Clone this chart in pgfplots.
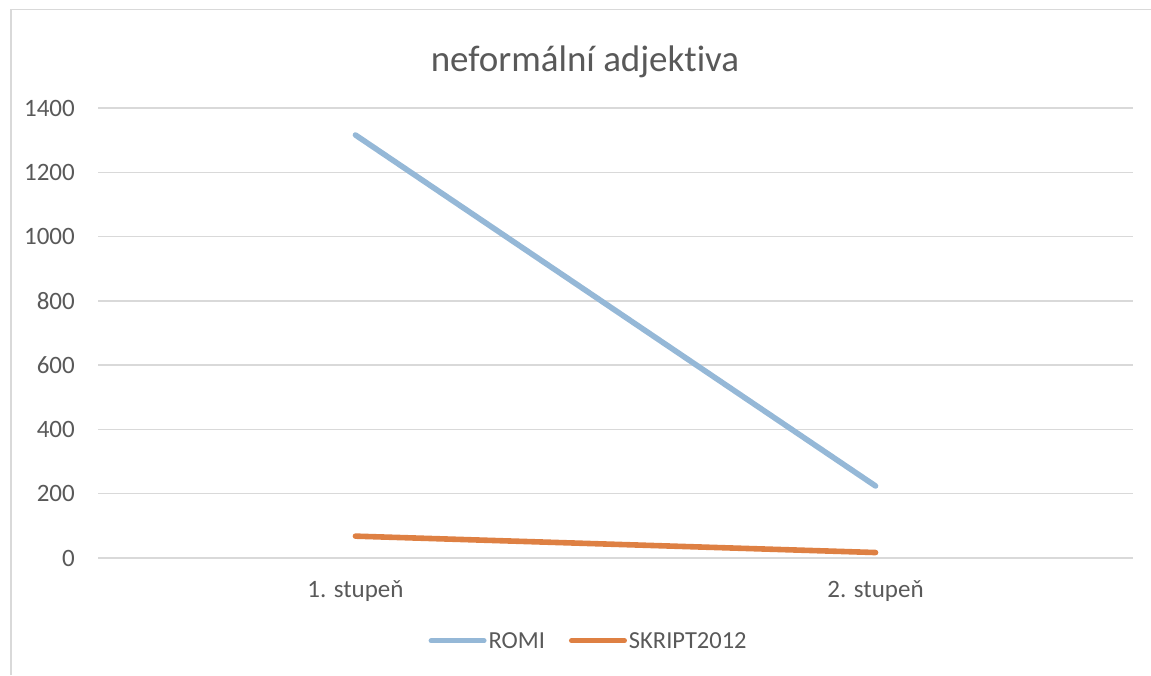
\documentclass[border=0pt]{standalone}
\usepackage{fontspec}
\setmainfont{Carlito}[Ligatures=CommonOff]
\usepackage{pgfplots}
\pgfplotsset{compat=1.18}
\definecolor{romi}{RGB}{149,184,215}
\definecolor{skript}{RGB}{222,128,67}
\definecolor{txt}{RGB}{89,89,89}
\definecolor{gridc}{RGB}{217,217,217}
\begin{document}
\begin{tikzpicture}[x=1pt,y=1pt]
\path[use as bounding box] (0,0) rectangle (1151,675);
\draw[gridc, line width=1.5pt] (11,0) -- (11,665.5) -- (1151,665.5);
\begin{axis}[
  at={(98pt,117pt)}, anchor=south west,
  scale only axis, width=1035pt, height=450pt,
  xmin=-0.495, xmax=1.495, ymin=0, ymax=1400,
  xtick={0,1}, xticklabels={1. stupeň,2. stupeň},
  ytick={0,200,...,1400},
  axis line style={draw=none},
  major tick length=0pt,
  ymajorgrids, grid style={gridc, line width=1.4pt},
  /pgf/number format/assume math mode=true,
  /pgf/number format/1000 sep={},
  tick label style={font=\fontsize{25}{29}\selectfont, text=txt},
  yticklabel style={inner sep=0pt, anchor=east, xshift=-23pt},
  xticklabel style={inner sep=0pt, anchor=base, yshift=-39pt},
  title={neformální adjektiva},
  title style={at={(0.4705,1)}, anchor=center, yshift=40pt, font=\fontsize{37}{44}\selectfont, text=txt},
  legend columns=2,
  legend style={at={(0.474,-0.184)}, anchor=center, draw=none, fill=none,
    font=\fontsize{24.5}{28}\selectfont, text=txt, inner sep=0pt,
    /tikz/every even column/.append style={column sep=22pt}},
  legend image code/.code={\draw[#1, line width=5pt, line cap=round] (0pt,0pt) -- (53pt,0pt);},
  legend cell align=left,
]
\addplot[romi, line width=5.6pt, line cap=round] coordinates {(0,1316) (1,224)};
\addlegendentry{ROMI}
\addplot[skript, line width=5.6pt, line cap=round] coordinates {(0,68) (1,17)};
\addlegendentry{SKRIPT2012}
\end{axis}
\end{tikzpicture}
\end{document}
